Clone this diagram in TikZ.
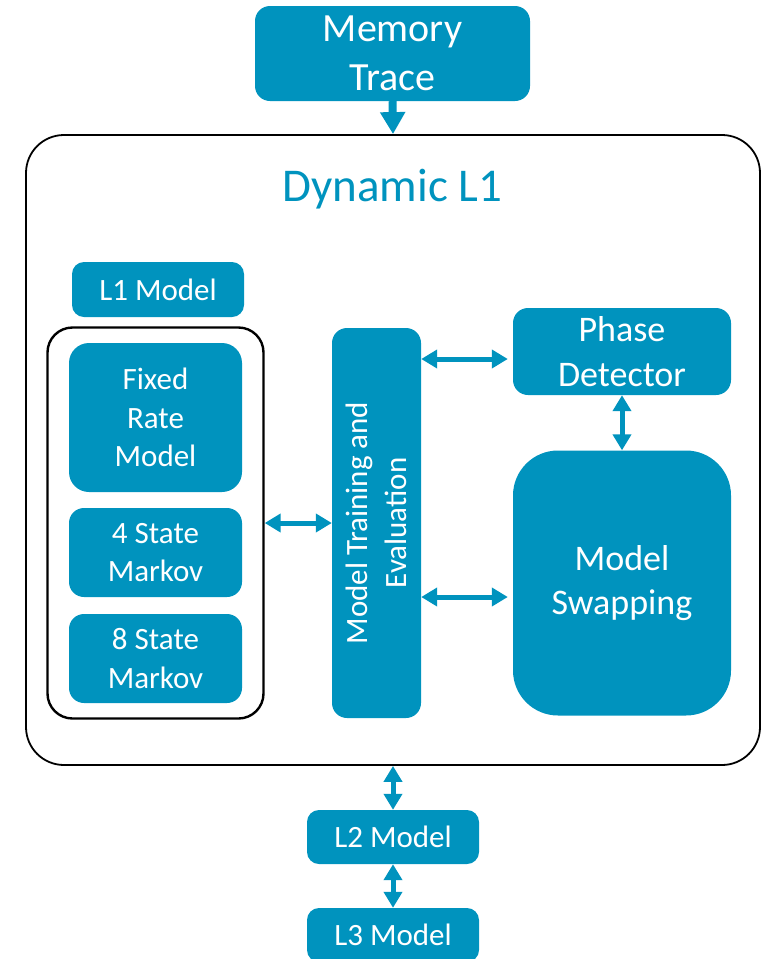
\documentclass[tikz,border=0pt]{standalone}
\usepackage{fontspec}
\setmainfont{Carlito}
\usetikzlibrary{arrows.meta,calc}
\definecolor{teal}{RGB}{0,147,190}
\begin{document}
\begin{tikzpicture}[x=1pt,y=-1pt,
  blk/.style={draw=none,fill=teal,text=white,rounded corners=#1,inner sep=0pt,align=center},
  blk/.default=14pt,
  frame/.style={draw=black,rounded corners=#1,inner sep=0pt},
  dbl/.style={teal,line width=5pt,{Triangle[width=18pt,length=16pt]}-{Triangle[width=18pt,length=16pt]}},
  sgl/.style={teal,line width=8pt,-{Triangle[width=24pt,length=22pt]}},
  fbig/.style={font=\fontsize{40}{48.5}\selectfont},
  fmid/.style={font=\fontsize{36}{44.5}\selectfont},
  fsml/.style={font=\fontsize{31}{38.5}\selectfont}]
\useasboundingbox (0,0) rectangle (770,959);

% outer container
\node[frame=38pt,line width=1.8pt,minimum width=734pt,minimum height=630pt] (outer) at (393,450) {};
\node[text=teal,font=\fontsize{47}{56}\selectfont,anchor=base] (title) at (392.5,201) {Dynamic L1};

% input trace
\node[blk=15pt,fbig,minimum width=275pt,minimum height=95pt] (mem) at (392.5,53.5) {Memory\\Trace};

% L1 model group
\node[blk=12pt,fsml,minimum width=172pt,minimum height=55pt] (l1) at (158,289.5) {L1 Model};
\node[frame=25pt,line width=2.4pt,minimum width=216pt,minimum height=391pt] (inner) at (155.5,523) {};
\node[blk=20pt,fsml,minimum width=173pt,minimum height=149pt] (fixed) at (155.5,417.5) {Fixed\\Rate\\Model};
\node[blk=15pt,fsml,minimum width=173pt,minimum height=89pt] (s4) at (155.5,552.5) {4 State\\Markov};
\node[blk=15pt,fsml,minimum width=173pt,minimum height=89pt] (s8) at (155.5,658.5) {8 State\\Markov};

% training column
\node[blk=15pt,minimum width=89pt,minimum height=390pt] (mte) at (376.5,523) {};
\node[text=white,fsml,align=center,rotate=90,inner sep=0pt] (mtetext) at (mte.center) {Model Training and\\Evaluation};

% right column
\node[blk=15pt,fmid,minimum width=218pt,minimum height=87pt] (phase) at (622,351.5) {Phase\\Detector};
\node[blk=45pt,fmid,minimum width=218pt,minimum height=265pt] (swap) at (622,583) {Model\\Swapping};

% lower levels
\node[blk=12pt,fsml,minimum width=172pt,minimum height=54pt] (l2) at (393,837) {L2 Model};
\node[blk=12pt,fsml,minimum width=172pt,minimum height=54pt] (l3) at (393,935) {L3 Model};

% connectors
\draw[sgl] (mem.south) -- (outer.north);
\draw[dbl] (inner.east) -- (mte.west);
\draw[dbl,shorten >=5pt] ($(mte.east |- phase.west)+(0,7.5)$) -- ($(phase.west)+(0,7.5)$);
\draw[dbl,shorten >=5pt] ($(mte.east |- swap.west)+(0,14)$) -- ($(swap.west)+(0,14)$);
\draw[dbl] (phase.south) -- (swap.north);
\draw[dbl] (outer.south) -- (l2.north);
\draw[dbl] (l2.south) -- (l3.north);
\end{tikzpicture}
\end{document}
